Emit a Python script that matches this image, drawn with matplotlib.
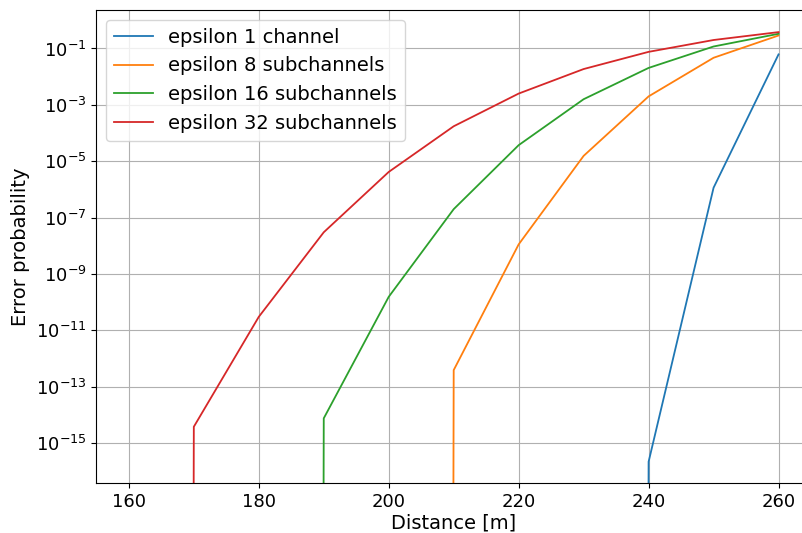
import numpy as np
import matplotlib
matplotlib.use("Agg")
import matplotlib.pyplot as plt

distance = [160, 170, 180, 190, 200, 210, 220, 230, 240, 250, 260]
log_eps_1 = [None, None, None, None, None, None, None, None, -15.66, -5.94, -1.21]
log_eps_8 = [None, None, None, None, None, -12.41, -7.95, -4.81, -2.70, -1.33, -0.54]
log_eps_16 = [None, None, None, -14.12, -9.81, -6.70, -4.43, -2.80, -1.69, -0.93, -0.48]
log_eps_32 = [None, -14.42, -10.52, -7.52, -5.38, -3.76, -2.60, -1.73, -1.12, -0.70, -0.42]
labels = ["epsilon 1 channel", "epsilon 8 subchannels",
          "epsilon 16 subchannels", "epsilon 32 subchannels"]

def to_vals(lst):
    return np.array([0.0 if v is None else 10.0 ** v for v in lst])

fig = plt.figure(figsize=(8.03, 5.33), dpi=100)
ax = fig.add_axes([0.12, 0.093, 0.890, 0.888])
for series, lab in zip([log_eps_1, log_eps_8, log_eps_16, log_eps_32], labels):
    ax.plot(distance, to_vals(series), label=lab, lw=1.3)
ax.set_yscale("log", nonpositive="clip")
ax.set_xlim(155, 265)
ax.set_ylim(10 ** -16.43, 10 ** 0.36)
ax.set_yticks([10.0 ** e for e in range(-15, 0, 2)])
ax.yaxis.set_minor_locator(matplotlib.ticker.NullLocator())
ax.set_xticks([160, 180, 200, 220, 240, 260])
ax.grid(True)
ax.tick_params(labelsize=13)
ax.set_xlabel("Distance [m]", fontsize=14, labelpad=2)
ax.set_ylabel("Error probability", fontsize=14)
ax.legend(loc="upper left", fontsize=14)
fig.savefig("out.png", dpi=100)
